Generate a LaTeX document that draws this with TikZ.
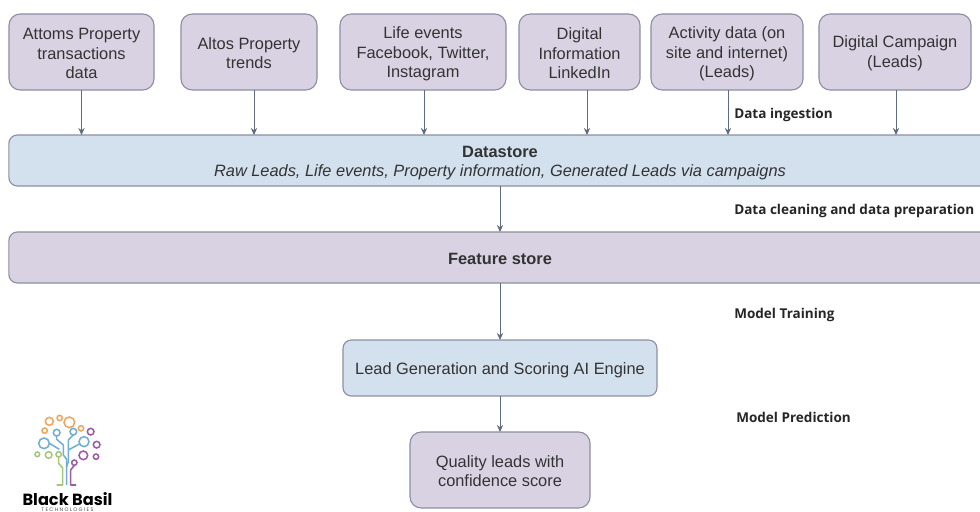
\documentclass[tikz,border=0pt]{standalone}
\usepackage{fontspec}
\setmainfont{Liberation Sans}
\newfontfamily\labelfont{Open Sans}
\newfontfamily\logofont{Poppins}
\usetikzlibrary{arrows.meta}
\definecolor{boxpurple}{HTML}{D9D2E3}
\definecolor{boxblue}{HTML}{D3E0EE}
\definecolor{boxline}{HTML}{8C8FA3}
\definecolor{arrowline}{HTML}{5F6B7E}
\definecolor{boxtext}{HTML}{333333}
\definecolor{logoorange}{HTML}{EDA65F}
\definecolor{logoblue}{HTML}{6FAFD6}
\definecolor{logopurple}{HTML}{9B5BA5}
\definecolor{logogreen}{HTML}{A5C77A}
\newcommand{\topgap}[1]{\rule{0pt}{#1}}
\tikzset{
	box/.style={draw=boxline,line width=0.8pt,rounded corners=6pt,align=center,inner sep=0pt,outer sep=0pt,text=boxtext,font=\fontsize{11.65}{13.9}\selectfont},
	sourcebox/.style={box,fill=boxpurple,minimum height=1.9cm,rounded corners=8pt},
	storebox/.style={box,fill=boxblue},
	featurebox/.style={box,fill=boxpurple},
	flow/.style={draw=arrowline,line width=0.6pt,-{Stealth[length=5pt,width=4.5pt]}},
	steplabel/.style={anchor=west,inner sep=0pt,text=black!85,font=\labelfont\bfseries\fontsize{9.62}{11}\selectfont},
	ring/.style={line width=1.1pt,fill=none},
	trace/.style={line width=1.1pt,line join=round}
}
\begin{document}
\begin{tikzpicture}[>=stealth,x=0.025cm,y=-0.025cm]
	\useasboundingbox (0,0) rectangle (980,512);
	\clip (0,0) rectangle (980,512);
	% sources
	\node[sourcebox,minimum width=3.625cm] (attoms) at (81.5,52) {\topgap{10.6pt}Attoms Property\\transactions\\data};
	\node[sourcebox,minimum width=3.4cm] (altos) at (249,52) {\topgap{10pt}Altos Property\\trends};
	\node[sourcebox,minimum width=4.15cm] (life) at (423,52) {\topgap{11pt}Life events\\Facebook, Twitter,\\Instagram};
	\node[sourcebox,minimum width=3.025cm] (digital) at (579.5,52) {\topgap{10.6pt}Digital\\Information\\LinkedIn};
	\node[sourcebox,minimum width=3.8cm] (activity) at (727,52) {\topgap{11pt}Activity data (on\\site and internet)\\(Leads)};
	\node[sourcebox,minimum width=3.8cm] (campaign) at (895,52) {\topgap{10pt}Digital Campaign\\(Leads)};
	% stores
	\node[storebox,minimum width=24.55cm,minimum height=1.275cm] (datastore) at (500,160.5) {\topgap{11.5pt}\textbf{Datastore}\\\textit{Raw Leads, Life events, Property information, Generated Leads via campaigns}};
	\node[featurebox,minimum width=24.55cm,minimum height=1.275cm] (feature) at (500,257.5) {\topgap{9.5pt}\textbf{Feature store}};
	\node[storebox,minimum width=7.85cm,minimum height=1.4cm] (engine) at (500,368) {\topgap{11.5pt}Lead Generation and Scoring AI Engine};
	\node[featurebox,minimum width=4.5cm,minimum height=1.9cm,rounded corners=8pt] (quality) at (500,470) {\topgap{9.8pt}Quality leads with\\confidence score};
	% arrows
	\foreach \n/\s in {attoms/0,altos/5,life/1,digital/7.5,activity/1,campaign/1}
		\draw[flow] ([xshift=\s*0.025cm]\n.south) -- ([xshift=\s*0.025cm]\n.south |- datastore.north);
	\draw[flow] (datastore.south) -- (feature.north);
	\draw[flow] (feature.south) -- (engine.north);
	\draw[flow] (engine.south) -- (quality.north);
	% step labels
	\node[steplabel] (ingestion) at (734,114.5) {Data ingestion};
	\node[steplabel] (cleaning) at (734,210.5) {Data cleaning and data preparation};
	\node[steplabel] (training) at (734,314.5) {Model Training};
	\node[steplabel] (prediction) at (736,417) {Model Prediction};
	% logo
	\begin{scope}[shift={(0,400)},x=0.00833cm,y=-0.00833cm]
		\draw[trace,logogreen] (176,171)--(176,190)--(188,204)--(188,255)--(170,255);
		\draw[trace,logoblue] (170,108)--(170,118)--(190,135)--(190,165)--(200,178)--(200,255);
		\draw[trace,logoblue] (148,130)--(178,148);
		\draw[trace,logoblue] (220,105)--(205,120)--(205,185)--(200,200);
		\draw[trace,logoblue] (238,132)--(205,150);
		\draw[trace,logopurple] (223,196)--(212,210)--(212,255)--(228,255);
		\foreach \cx/\cy/\r in {148/64/12,179/54/8,208/67/16,134/92/8,243/85/8}
			\draw[ring,logoorange] (\cx,\cy) circle (\r);
		\foreach \cx/\cy/\r in {170/98/10,220/95/10,132/130/16,252/125/15}
			\draw[ring,logoblue] (\cx,\cy) circle (\r);
		\foreach \cx/\cy/\r in {272/95/10,290/134/10,250/166/13,288/170/8,223/188/8}
			\draw[ring,logopurple] (\cx,\cy) circle (\r);
		\foreach \cx/\cy/\r in {112/163/7,146/165/10,176/163/8}
			\draw[ring,logogreen] (\cx,\cy) circle (\r);
	\end{scope}
	\node[inner sep=0pt,text height=8pt,text depth=0pt,font=\logofont\bfseries\fontsize{11.5}{12}\selectfont] (brand) at (67.5,499.5) {Black Basil};
	\node[inner sep=0pt,text height=2.6pt,text depth=0pt,text=black!70,font=\logofont\fontsize{3.6}{4}\selectfont] (brandsub) at (67.5,509.3) {T E C H N O L O G I E S};
\end{tikzpicture}
\end{document}
